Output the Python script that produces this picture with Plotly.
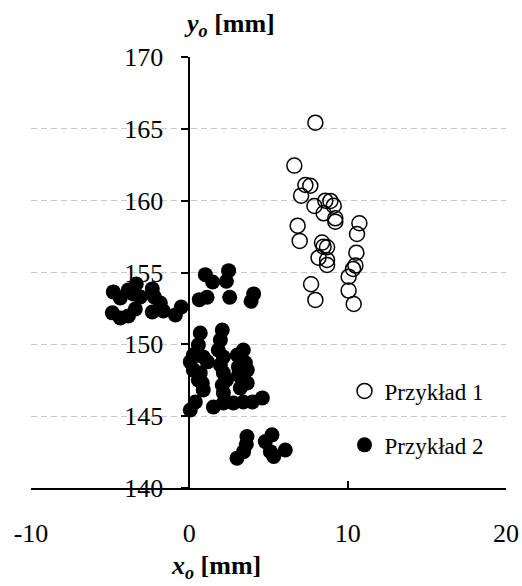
import plotly.graph_objects as go

# Przykład 1 (open circles)
x1 = [7.96, 6.63, 7.33, 7.64, 7.06, 7.90, 8.59, 8.91, 9.12, 8.48, 9.22, 9.22,
      6.84, 6.97, 8.38, 8.48, 8.70, 8.16, 8.70, 8.70, 10.74, 10.59, 10.55,
      10.49, 10.34, 10.06, 10.06, 10.38, 7.69, 7.96]
y1 = [165.43, 162.44, 161.09, 161.04, 160.35, 159.63, 160.00, 159.98, 159.65,
      159.12, 158.77, 158.54, 158.26, 157.20, 157.08, 156.80, 156.76, 156.03,
      155.87, 155.52, 158.43, 157.68, 156.38, 155.48, 155.25, 154.71, 153.74,
      152.81, 154.18, 153.09]

# Przykład 2 (filled circles)
x2 = [-4.80, -4.36, -3.85, -3.35, -3.54, -3.10, -4.86, -4.36, -3.85, -3.41,
      -2.34, -2.21, -1.83, -1.64, -2.34, -0.88, -0.51,
      1.01, 1.47, 2.48, 2.34, 2.55, 0.63, 1.12, 3.90, 4.06,
      0.69, 0.57, 0.25, 0.06, 0.88, 1.14, 0.25, 0.69, 0.82, 0.88, 0.57,
      2.08, 1.96, 1.83, 2.15, 1.96, 2.15, 2.08, 2.15, 2.34,
      3.41, 3.03, 3.54, 3.10, 3.66, 3.10, 3.41, 3.66, 3.22,
      0.06, 0.38, 1.52, 2.15, 2.78, 3.41, 3.98, 4.61,
      3.64, 3.60, 3.43, 3.01, 5.22, 4.80, 5.12, 5.33, 6.06]
y2 = [153.65, 153.23, 153.79, 154.20, 153.51, 153.30, 152.19, 151.84, 151.98,
      152.46, 153.86, 153.30, 152.88, 152.32, 152.25, 152.05, 152.60,
      154.85, 154.34, 155.13, 154.39, 153.28, 153.11, 153.28, 153.00, 153.51,
      150.79, 149.96, 149.26, 148.78, 149.12, 148.78, 148.22, 148.01, 147.31,
      146.83, 147.52,
      151.00, 150.31, 149.61, 149.12, 148.57, 148.01, 147.17, 146.62, 147.52,
      149.61, 149.26, 148.71, 148.43, 148.22, 147.87, 147.87, 147.31, 146.97,
      145.43, 145.99, 145.64, 145.92, 145.92, 145.99, 145.99, 146.27,
      143.58, 143.05, 142.53, 142.07, 143.70, 143.23, 142.53, 142.19, 142.65]

x_ticks = [-10, 0, 10, 20]
x_ticklabels = ["-10", "0", "10", "20"]
y_ticks = [140, 145, 150, 155, 160, 165, 170]

FONT = "Liberation Serif, Times New Roman, serif"

fig = go.Figure()
fig.add_trace(go.Scatter(
    x=x1, y=y1, mode="markers", name="Przykład 1", legendgroup="a",
    marker=dict(symbol="circle-open", size=15, color="black",
                line=dict(width=1.5, color="black")),
))
fig.add_trace(go.Scatter(
    x=x2, y=y2, mode="markers", name="Przykład 2", legendgroup="b",
    marker=dict(symbol="circle", size=15, color="black",
                line=dict(width=0)),
))

fig.update_layout(
    width=522, height=586,
    margin=dict(l=31, r=16, t=57, b=98, autoexpand=False),
    paper_bgcolor="white", plot_bgcolor="white",
    font=dict(family=FONT, color="black", size=26),
    showlegend=True,
    legend=dict(
        x=0.66, y=0.275, xanchor="left", yanchor="top",
        bgcolor="rgba(0,0,0,0)", font=dict(family=FONT, size=23),
        tracegroupgap=21, traceorder="grouped",
    ),
    xaxis=dict(
        range=[-10, 20], tickvals=x_ticks, ticktext=x_ticklabels,
        automargin=False,
        showline=True, linecolor="black", linewidth=2,
        ticks="inside", ticklen=7, tickwidth=1.5, tickcolor="black",
        showgrid=False, zeroline=False,
        tickfont=dict(family=FONT, size=26), ticklabelstandoff=21,
    ),
    yaxis=dict(
        range=[140, 170], tickvals=y_ticks, automargin=False,
        anchor="free", position=1/3,
        showline=True, linecolor="black", linewidth=2,
        ticks="outside", ticklen=7, tickwidth=1.5, tickcolor="black",
        showgrid=True, gridcolor="#c8c8c8", gridwidth=1, griddash="6px,4px",
        zeroline=False,
        tickfont=dict(family=FONT, size=26), ticklabelstandoff=13,
    ),
    annotations=[
        dict(text="<b><i>y</i><sub><i>o</i></sub> [mm]</b>",
             xref="paper", yref="paper", x=0.318, y=1.074,
             xanchor="left", yanchor="middle", showarrow=False,
             font=dict(family=FONT, size=26)),
        dict(text="<b><i>x</i><sub><i>o</i></sub> [mm]</b>",
             xref="paper", yref="paper", x=0.29, y=-0.184,
             xanchor="left", yanchor="middle", showarrow=False,
             font=dict(family=FONT, size=26)),
    ],
)

fig.write_html("out.html")
